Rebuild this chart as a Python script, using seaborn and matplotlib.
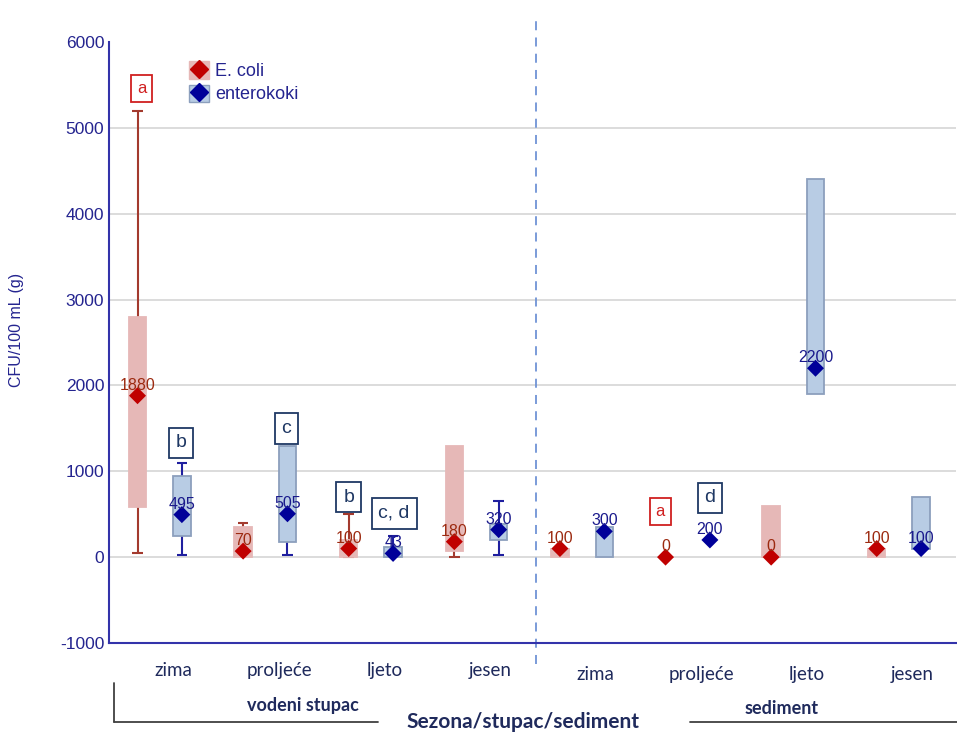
import numpy as np
import pandas as pd
import matplotlib
matplotlib.use('Agg')
import matplotlib.pyplot as plt
from matplotlib.lines import Line2D
from matplotlib.patches import Patch
import seaborn as sns

# Data
seasons = ['zima', 'proljeće', 'ljeto', 'jesen', 'zima', 'proljeće', 'ljeto', 'jesen']
sections = ['vodeni stupac', 'sediment']

ecoli_med = [1880, 70, 100, 180, 100, 0, 0, 100]
ecoli_q1 = [580, 0, 0, 70, 0, np.nan, 0, 0]
ecoli_q3 = [2800, 350, 200, 1300, 100, np.nan, 600, 100]
ecoli_min = [50, np.nan, 0, 0, np.nan, np.nan, np.nan, np.nan]
ecoli_max = [5200, 400, 500, np.nan, np.nan, np.nan, np.nan, np.nan]

entero_med = [495, 505, 43, 320, 300, 200, 2200, 100]
entero_q1 = [250, 175, 0, 200, 0, np.nan, 1900, 100]
entero_q3 = [950, 1300, 120, 380, 350, np.nan, 4400, 700]
entero_min = [20, 20, np.nan, 20, np.nan, np.nan, np.nan, np.nan]
entero_max = [1100, np.nan, 250, 650, np.nan, np.nan, np.nan, np.nan]

# significance letters: (text, group position, y, colour)
letters = [('a', -0.17, 5460, 'red'), ('b', 0.2, 1330, 'navy'), ('c', 1.2, 1500, 'navy'),
           ('b', 1.79, 700, 'navy'), ('c, d', 2.22, 510, 'navy'),
           ('a', 4.74, 535, 'red'), ('d', 5.21, 690, 'navy')]

sns.set_style('white')
plt.rcParams['font.family'] = ['Liberation Sans', 'DejaVu Sans']
plt.rcParams['axes.unicode_minus'] = False

NAVY = '#24248f'
RED_D = '#c00000'
BLUE_D = '#000099'
PINK = '#e6b8b7'
LBLUE = '#b8cce4'
BLUE_EDGE = '#8c9fbd'
BROWN = '#a33a2e'

off = 0.21
grp = np.arange(len(seasons))
df = pd.DataFrame({
    'pos': np.concatenate([grp - off, grp + off]),
    'median': ecoli_med + entero_med,
    'q1': ecoli_q1 + entero_q1,
    'q3': ecoli_q3 + entero_q3,
    'lo': ecoli_min + entero_min,
    'hi': ecoli_max + entero_max,
    'skupina': ['E. coli'] * 8 + ['enterokoki'] * 8,
})

fig = plt.figure(figsize=(9.57, 7.35), dpi=100)
ax = fig.add_axes([0.1139, 0.1252, 0.885, 0.8177])

styles = {'E. coli': dict(fill=PINK, edge=PINK, whisk=BROWN, txt='#9c2a10'),
          'enterokoki': dict(fill=LBLUE, edge=BLUE_EDGE, whisk='#1f1f9f', txt='#1a1a8c')}

for _, r in df.iterrows():
    st = styles[r['skupina']]
    # whiskers
    lo = r['lo'] if not np.isnan(r['lo']) else r['q1']
    hi = r['hi'] if not np.isnan(r['hi']) else r['q3']
    if not (np.isnan(r['lo']) and np.isnan(r['hi'])):
        ax.vlines(r['pos'], lo, hi, color=st['whisk'], lw=1.5, zorder=2)
        for v in (r['lo'], r['hi']):
            if not np.isnan(v):
                ax.hlines(v, r['pos'] - 0.05, r['pos'] + 0.05, color=st['whisk'], lw=1.5, zorder=2)
    # box
    if not np.isnan(r['q1']):
        ax.bar(r['pos'], r['q3'] - r['q1'], bottom=r['q1'], width=0.165,
               color=st['fill'], edgecolor=st['edge'], lw=1.3, zorder=3)
    # median label
    ax.text(r['pos'], r['median'] + 35, f"{int(r['median'])}", color=st['txt'],
            ha='center', va='bottom', fontsize=11.5, zorder=6)

sns.scatterplot(data=df, x='pos', y='median', hue='skupina',
                palette={'E. coli': RED_D, 'enterokoki': BLUE_D},
                marker='D', s=75, edgecolor='none', legend=False, ax=ax, zorder=5)

for txt, x, y, c in letters:
    col = '#d02020' if c == 'red' else '#1f3864'
    ax.text(x, y, txt, ha='center', va='center', fontsize=12 if c == 'red' else 14,
            color=col, zorder=7,
            bbox=dict(boxstyle='square,pad=0.35', fc='white', ec=col, lw=1.3))

ax.axvline(3.56, ymin=-0.035, ymax=1.045, color='#6f93d6', ls=(0, (5, 4)), lw=1.3, clip_on=False)

ax.set_xlim(-0.48, 7.54)
ax.set_ylim(-1000, 6000)
ax.set_yticks(range(-1000, 6001, 1000))
ax.set_xticks(grp)
ax.set_xticklabels([])
ax.set_xlabel('')
ax.set_ylabel('')
ax.yaxis.grid(True, color='#d9d9d9', lw=1.3)
ax.get_ygridlines()[-1].set_visible(False)
ax.set_axisbelow(True)
for s in ('top', 'right'):
    ax.spines[s].set_visible(False)
for s in ('left', 'bottom'):
    ax.spines[s].set_color('#3333aa')
    ax.spines[s].set_linewidth(1.5)
ax.tick_params(axis='both', direction='in', length=4, width=1, color='#3333aa',
               labelcolor=NAVY, labelsize=12.5)

narrow = ['Lato', 'DejaVu Sans']
for i, s in enumerate(seasons):
    dy = -0.031 if i < 4 else -0.039
    ax.text(i + 0.13, dy, s, transform=ax.get_xaxis_transform(), ha='center', va='top',
            fontsize=13.5, color='#1f2a5c', family=narrow)

fig.text(17 / 957, 1 - 330 / 735, 'CFU/100 mL (g)', rotation=90, ha='center', va='center',
         color=NAVY, fontsize=11.5)
fig.text(303 / 957, 1 - 705 / 735, sections[0], ha='center', va='center', fontsize=13,
         fontweight='bold', color='#1f2a5c', family=narrow)
fig.text(782 / 957, 1 - 709 / 735, sections[1], ha='center', va='center', fontsize=13,
         fontweight='bold', color='#1f2a5c', family=narrow)
fig.text(523 / 957, 1 - 722 / 735, 'Sezona/stupac/sediment', ha='center', va='center',
         fontsize=15, fontweight='bold', color='#1f2a5c', family=narrow)

lc = '#404040'
fig.add_artist(Line2D([114 / 957, 114 / 957], [1 - 683 / 735, 1 - 722 / 735], color=lc, lw=1.3))
fig.add_artist(Line2D([114 / 957, 378 / 957], [1 - 722 / 735, 1 - 722 / 735], color=lc, lw=1.3))
fig.add_artist(Line2D([690 / 957, 957 / 957], [1 - 722 / 735, 1 - 722 / 735], color=lc, lw=1.3))

handles = [(Patch(fc=PINK, ec=PINK), Line2D([], [], marker='D', color=RED_D, ls='', ms=9)),
           (Patch(fc=LBLUE, ec=BLUE_EDGE), Line2D([], [], marker='D', color=BLUE_D, ls='', ms=9))]
ax.legend(handles, ['E. coli', 'enterokoki'], loc='upper left', bbox_to_anchor=(0.075, 0.995),
          frameon=False, fontsize=13, labelcolor=NAVY, handlelength=1.1, handleheight=1.1,
          handletextpad=0.35, labelspacing=0.25)

fig.savefig('out.png', dpi=100)
